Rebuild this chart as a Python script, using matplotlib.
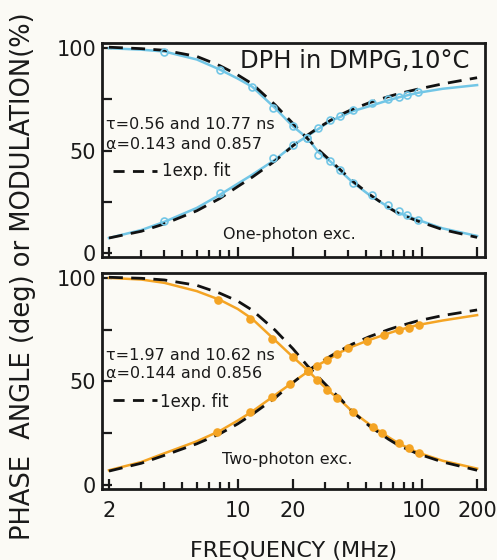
import numpy as np
import matplotlib
matplotlib.use('Agg')
import matplotlib.pyplot as plt
from matplotlib.ticker import FixedLocator, NullFormatter, FixedFormatter

# ---- one-photon excitation (top) ----
f_line = [2, 3, 4, 6, 8, 10, 12, 16, 20, 24, 27.5, 32, 36, 42, 52, 66, 75, 95, 130, 200]
top_mod = [100, 99.3, 98.4, 94.5, 89.6, 85.2, 81.2, 70.7, 61.8, 56.0, 49.2, 44.6, 40.2, 34.6, 28.3, 22.4, 19.6, 16.2, 12.0, 8.3]
top_phase = [7.3, 11.2, 15.2, 22.0, 28.4, 33.8, 38.2, 45.6, 52.6, 57.2, 60.6, 64.6, 66.4, 69.2, 71.7, 74.6, 76.0, 78.2, 80.2, 82.0]
top_mod_fit = [100.5, 99.8, 99.0, 96.0, 91.5, 87.0, 82.6, 72.3, 63.2, 55.8, 50.4, 45.0, 40.8, 35.2, 28.6, 22.2, 19.2, 15.6, 11.4, 7.6]
top_phase_fit = [7.3, 10.6, 14.2, 20.6, 26.6, 32.4, 37.0, 45.0, 52.4, 57.6, 61.2, 64.8, 67.4, 70.2, 73.4, 76.4, 77.8, 80.0, 82.6, 85.6]

f_mod_top = [4, 8, 11.9, 15.6, 20, 23.7, 27.5, 31.8, 36, 42.6, 53.6, 66, 75, 83, 96]
top_mod_pts = [98.4, 89.4, 81.3, 70.7, 61.8, 56.1, 48.0, 44.7, 40.7, 34.1, 28.5, 23.6, 20.3, 18.7, 16.3]
f_ph_top = [4, 8, 15.6, 20, 23.7, 27.5, 31.8, 36, 42.6, 53.6, 66, 75, 83, 96]
top_phase_pts = [15.4, 29.3, 46.3, 52.8, 56.1, 61.0, 65.0, 66.7, 69.9, 73.2, 75.0, 76.2, 77.4, 78.6]

# ---- two-photon excitation (bottom) ----
bot_mod = [100, 99.2, 97.6, 93.6, 89.4, 85.0, 80.2, 69.8, 61.7, 55.4, 50.0, 44.6, 41.0, 35.4, 29.2, 23.0, 20.0, 15.6, 11.6, 7.8]
bot_phase = [7.0, 11.0, 15.2, 21.0, 26.0, 31.0, 35.4, 43.4, 49.6, 54.6, 58.0, 61.2, 64.0, 66.8, 70.0, 73.2, 74.8, 77.2, 79.4, 82.0]
bot_mod_fit = [100.3, 99.8, 99.0, 96.4, 92.6, 88.8, 84.4, 74.7, 65.7, 57.4, 52.0, 46.0, 41.8, 35.4, 28.4, 22.0, 19.0, 15.0, 11.0, 7.0]
bot_phase_fit = [6.6, 10.4, 14.2, 19.8, 24.6, 29.4, 34.0, 42.0, 49.4, 55.0, 58.6, 62.2, 64.8, 68.0, 71.6, 75.0, 76.6, 79.2, 81.8, 84.5]

f_mod_bot = [7.85, 11.66, 15.3, 20, 24.2, 26.9, 30.5, 34.6, 42.6, 54.7, 60.8, 74.9, 84.9, 96.3]
bot_mod_pts = [89.4, 80.2, 70.5, 61.7, 55.2, 50.8, 46.0, 42.0, 35.0, 28.0, 25.2, 20.2, 17.6, 15.4]
f_ph_bot = [7.68, 11.66, 15.3, 19.3, 24.2, 26.9, 30.5, 34.6, 40, 50.4, 62.1, 74.9, 84.9, 96.3]
bot_phase_pts = [25.6, 35.0, 42.4, 48.8, 54.8, 57.4, 60.2, 63.2, 66.0, 69.6, 72.5, 74.8, 76.0, 77.3]

cyan = '#72c6e6'
orange = '#f4a424'
bg = '#fbfaf5'
ink = '#1a1a1a'

fig = plt.figure(figsize=(4.97, 5.6), dpi=100, facecolor=bg)
ax1 = fig.add_axes([0.205, 0.541, 0.771, 0.382])
ax2 = fig.add_axes([0.205, 0.127, 0.771, 0.386])

minor = [3, 4, 5, 6, 7, 8, 9, 30, 40, 50, 60, 70, 80, 90]

def style(ax, show_x):
    ax.set_facecolor(bg)
    ax.set_xscale('log')
    ax.set_xlim(1.83, 221)
    ax.set_ylim(-2, 102.5)
    ax.xaxis.set_major_locator(FixedLocator([2, 10, 20, 100, 200]))
    ax.xaxis.set_minor_locator(FixedLocator(minor))
    ax.xaxis.set_minor_formatter(NullFormatter())
    if show_x:
        ax.xaxis.set_major_formatter(FixedFormatter(['2', '10', '20', '100', '200']))
    else:
        ax.xaxis.set_major_formatter(NullFormatter())
    ax.set_yticks([0, 25, 50, 75, 100])
    ax.set_yticklabels(['0', '', '50', '', '100'])
    ax.tick_params(which='both', direction='in', width=1.6, colors=ink, labelsize=15)
    ax.tick_params(axis='y', which='major', length=7, pad=4)
    ax.tick_params(axis='x', which='major', length=7, pad=9)
    ax.tick_params(which='minor', length=5)
    for s in ax.spines.values():
        s.set_linewidth(2)
        s.set_color(ink)

panels = [
    (ax1, cyan, top_mod, top_phase, top_mod_fit, top_phase_fit,
     f_mod_top, top_mod_pts, f_ph_top, top_phase_pts, False),
    (ax2, orange, bot_mod, bot_phase, bot_mod_fit, bot_phase_fit,
     f_mod_bot, bot_mod_pts, f_ph_bot, bot_phase_pts, True),
]
for ax, col, mod, ph, modf, phf, fm, mp, fph, pp, filled in panels:
    ax.plot(f_line, mod, color=col, lw=1.8, zorder=3)
    ax.plot(f_line, ph, color=col, lw=1.8, zorder=3)
    ax.plot(f_line, modf, color='#111111', lw=2, ls=(0, (5, 3)), zorder=4)
    ax.plot(f_line, phf, color='#111111', lw=2, ls=(0, (5, 3)), zorder=4)
    fc = col if filled else 'none'
    ax.plot(fm, mp, 'o', ms=5, mfc=fc, mec=col, mew=1.2, zorder=5)
    ax.plot(fph, pp, 'o', ms=5, mfc=fc, mec=col, mew=1.2, zorder=5)

style(ax1, False)
style(ax2, True)

ax1.text(0.96, 0.885, 'DPH in DMPG,10°C', transform=ax1.transAxes, ha='right',
         fontsize=17.5, color=ink)
ax1.text(0.01, 0.60, 'τ=0.56 and 10.77 ns', transform=ax1.transAxes, fontsize=11.5, color=ink)
ax1.text(0.01, 0.507, 'α=0.143 and 0.857', transform=ax1.transAxes, fontsize=11.5, color=ink)
ax1.plot([0.03, 0.145], [0.40, 0.40], transform=ax1.transAxes, color='#111111', lw=2, ls=(0, (4, 3)))
ax1.text(0.157, 0.38, '1exp. fit', transform=ax1.transAxes, fontsize=12, color=ink)
ax1.text(0.316, 0.085, 'One-photon exc.', transform=ax1.transAxes, fontsize=11.5, color=ink)

ax2.text(0.01, 0.597, 'τ=1.97 and 10.62 ns', transform=ax2.transAxes, fontsize=11.5, color=ink)
ax2.text(0.01, 0.514, 'α=0.144 and 0.856', transform=ax2.transAxes, fontsize=11.5, color=ink)
ax2.plot([0.03, 0.145], [0.41, 0.41], transform=ax2.transAxes, color='#111111', lw=2, ls=(0, (4, 3)))
ax2.text(0.152, 0.38, '1exp. fit', transform=ax2.transAxes, fontsize=12, color=ink)
ax2.text(0.313, 0.116, 'Two-photon exc.', transform=ax2.transAxes, fontsize=11.5, color=ink)

fig.text(0.046, 0.507, 'PHASE  ANGLE (deg) or MODULATION(%)', rotation=90,
         ha='center', va='center', fontsize=18.5, color=ink)
fig.text(0.59, 0.006, 'FREQUENCY (MHz)', ha='center', va='baseline', fontsize=16, color=ink)

fig.savefig('out.png', dpi=100, facecolor=bg)
